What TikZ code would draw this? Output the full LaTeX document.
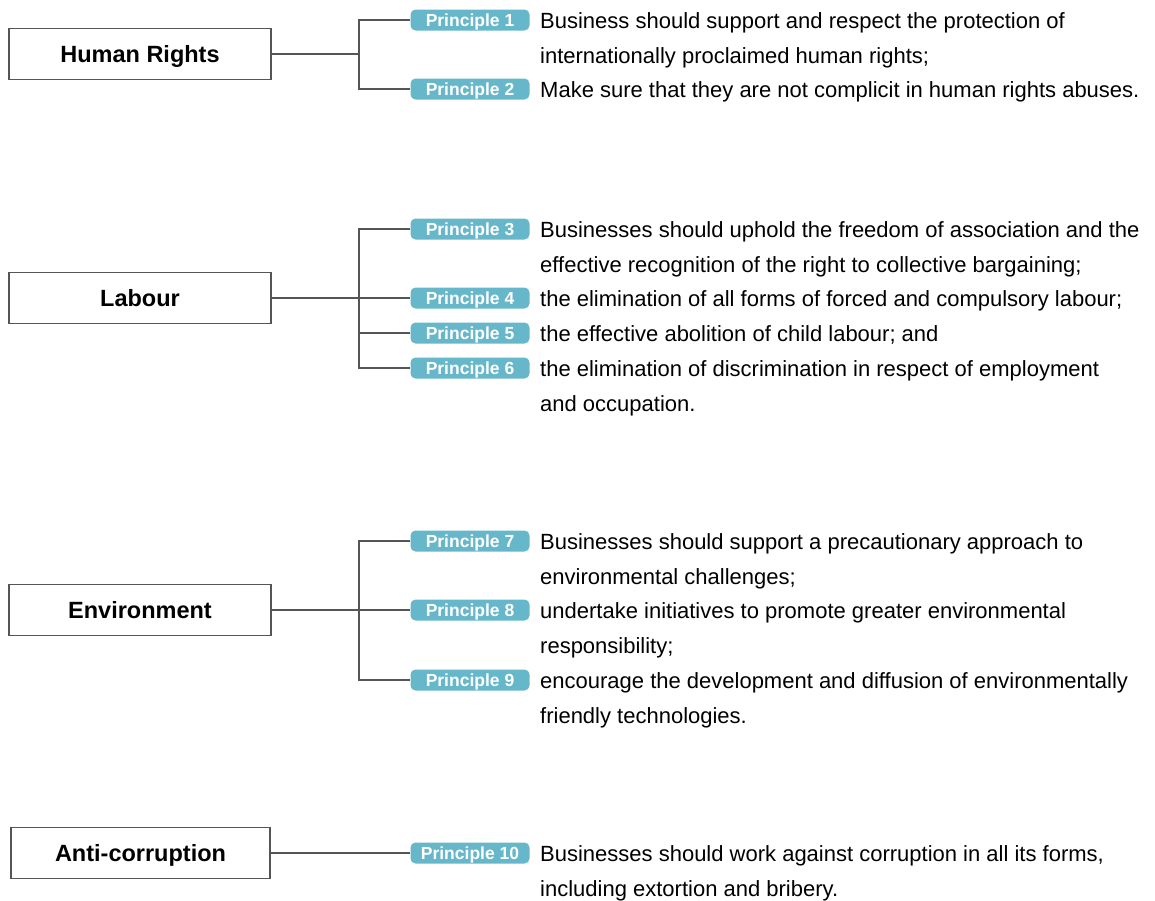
\documentclass[tikz,border=0pt]{standalone}
\usepackage{fontspec}
\setmainfont{Liberation Sans}
\usepackage{tikz}
\definecolor{badgeblue}{HTML}{67B7CA}
\definecolor{linegray}{HTML}{555555}
\begin{document}
\begin{tikzpicture}[x=1pt,y=-1pt,
    area/.style={draw=linegray, line width=1.2pt, minimum width=262, minimum height=51, inner sep=0pt, text height=17pt, text depth=0pt, font=\fontsize{23.5}{26}\selectfont\bfseries},
    badge/.style={fill=badgeblue, rounded corners=5pt, minimum width=119, minimum height=21, inner sep=0pt, text height=12.6pt, text depth=0pt, text=white, font=\fontsize{17.5}{19}\selectfont\bfseries},
    desc/.style={anchor=base west, align=left, inner sep=0pt, font=\fontsize{22}{35}\selectfont},
    link/.style={draw=linegray, line width=1.2pt}]
  \useasboundingbox (0,0) rectangle (1155,900);
  % the four areas
  \node[area] (hr) at (140,54) {Human Rights};
  \node[area] (lab) at (140,298) {Labour};
  \node[area] (env) at (140,610) {Environment};
  \node[area, minimum width=259] (ac) at (140.5,853) {Anti-corruption};
  % principle badges
  \foreach \n/\y in {1/20,2/89,3/229,4/298,5/333,6/368,7/541,8/610,9/680,10/853}
    \node[badge] (p\n) at (470,\y) {Principle \n};
  % texts (base anchor sits on the last line)
  \node[desc] (d1) at (540,63) {Business should support and respect the protection of\\internationally proclaimed human rights;};
  \node[desc] (d2) at (540,97) {Make sure that they are not complicit in human rights abuses.};
  \node[desc] (d3) at (540,272) {Businesses should uphold the freedom of association and the\\effective recognition of the right to collective bargaining;};
  \node[desc] (d4) at (540,306) {the elimination of all forms of forced and compulsory labour;};
  \node[desc] (d5) at (540,341) {the effective abolition of child labour; and};
  \node[desc] (d6) at (540,411) {the elimination of discrimination in respect of employment\\and occupation.};
  \node[desc] (d7) at (540,584) {Businesses should support a precautionary approach to\\environmental challenges;};
  \node[desc] (d8) at (540,653) {undertake initiatives to promote greater environmental\\responsibility;};
  \node[desc] (d9) at (540,723) {encourage the development and diffusion of environmentally\\friendly technologies.};
  \node[desc] (d10) at (540,896) {Businesses should work against corruption in all its forms,\\including extortion and bribery.};
  % forks
  \coordinate (hrk) at (359,54);
  \coordinate (labk) at (359,298);
  \coordinate (envk) at (359,610);
  \draw[link] (hr.east) -- (hrk);
  \draw[link] (p1.west) -| (hrk) |- (p2.west);
  \draw[link] (lab.east) -- (labk);
  \draw[link] (p3.west) -| (labk) |- (p6.west);
  \draw[link] (labk) -- (p4.west);
  \draw[link] (p5.west) -- (p5.west -| labk);
  \draw[link] (env.east) -- (envk);
  \draw[link] (p7.west) -| (envk) |- (p9.west);
  \draw[link] (envk) -- (p8.west);
  \draw[link] (ac.east) -- (p10.west);
\end{tikzpicture}
\end{document}
